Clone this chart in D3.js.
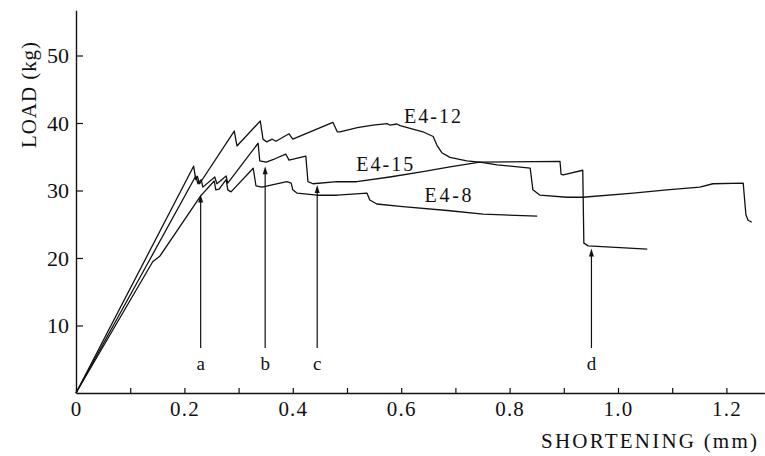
<!DOCTYPE html>
<html>
<head>
<meta charset="utf-8">
<script src="https://cdn.jsdelivr.net/npm/d3@7"></script>
<style>
  html, body { margin: 0; padding: 0; background: #fff; }
  svg { display: block; }
  text { font-family: "Liberation Serif", "DejaVu Serif", serif; fill: #111; }
</style>
</head>
<body>
<svg id="chart" width="765" height="456"></svg>
<script>
// ---------- data (shortening in mm, load in kg) ----------
const xTickValues = [0, 0.1, 0.2, 0.3, 0.4, 0.5, 0.6, 0.7, 0.8, 0.9, 1.0, 1.1, 1.2];
const xLabelValues = [0, 0.2, 0.4, 0.6, 0.8, 1.0, 1.2];
const xTickLabels = ["0", "0.2", "0.4", "0.6", "0.8", "1.0", "1.2"];
const yTickValues = [10, 20, 30, 40, 50];
const yTickLabels = ["10", "20", "30", "40", "50"];

const seriesNames = ["E4-12", "E4-15", "E4-8"];

const e412 = [
  [0, 0], [0.217, 33.6], [0.221, 31.6], [0.224, 32.1], [0.228, 31.0],
  [0.292, 38.8], [0.297, 36.6], [0.340, 40.3], [0.345, 37.6], [0.352, 37.2],
  [0.362, 37.6], [0.369, 37.3], [0.393, 38.4], [0.400, 37.6], [0.474, 40.1],
  [0.482, 38.7], [0.487, 38.7], [0.519, 39.3], [0.548, 39.7], [0.574, 39.9],
  [0.579, 39.7], [0.592, 39.85], [0.598, 39.6], [0.640, 38.7], [0.659, 38.0],
  [0.666, 36.7], [0.675, 35.6], [0.690, 34.9], [0.721, 34.4], [0.745, 34.2],
  [0.893, 34.3], [0.895, 32.4], [0.899, 32.3], [0.935, 33.0], [0.937, 22.2],
  [0.945, 21.8], [1.054, 21.3]
];

const e415 = [
  [0, 0], [0.135, 19.6], [0.221, 32.15], [0.225, 31.0], [0.231, 31.6],
  [0.234, 30.5], [0.256, 32.0], [0.260, 31.0], [0.277, 32.15], [0.280, 31.1],
  [0.336, 37.0], [0.339, 34.4], [0.351, 34.2], [0.367, 34.7], [0.387, 35.4],
  [0.393, 34.5], [0.424, 35.1], [0.428, 31.3], [0.437, 31.0], [0.482, 31.3],
  [0.518, 31.3], [0.579, 32.0], [0.640, 32.8], [0.690, 33.5], [0.745, 34.2],
  [0.777, 33.8], [0.838, 33.3], [0.843, 30.1], [0.856, 29.3], [0.906, 29.0],
  [0.935, 29.0], [1.028, 29.6], [1.090, 30.1], [1.151, 30.5], [1.175, 31.0],
  [1.231, 31.1], [1.236, 26.4], [1.240, 25.6], [1.247, 25.3]
];

const e48 = [
  [0, 0], [0.1415, 19.45], [0.155, 20.3], [0.230, 29.2], [0.255, 31.4],
  [0.258, 30.1], [0.264, 30.2], [0.277, 31.6], [0.280, 30.1], [0.286, 29.8],
  [0.327, 33.3], [0.332, 30.7], [0.343, 30.5], [0.389, 31.3], [0.397, 31.1],
  [0.400, 30.1], [0.408, 29.6], [0.445, 29.3], [0.482, 29.3], [0.537, 29.6],
  [0.542, 28.6], [0.555, 28.0], [0.603, 27.6], [0.690, 27.0], [0.751, 26.5],
  [0.851, 26.2]
];

const arrowLabels = ["a", "b", "c", "d"];
const arrowX = [0.230, 0.349, 0.445, 0.951];
const arrowTipLoad = [29.4, 33.6, 30.8, 21.4];

// ---------- scales ----------
const svg = d3.select("#chart");
const x = d3.scaleLinear().domain([0, 1.27]).range([76, 76 + 1.27 * 542]);
const y = d3.scaleLinear().domain([0, 56.7]).range([393, 393 - 56.7 * 6.75]);

const ink = "#111";

// ---------- axes ----------
const labelMap = new Map(xLabelValues.map((v, i) => [v.toFixed(1), xTickLabels[i]]));
const xAxis = d3.axisBottom(x)
  .tickValues(xTickValues)
  .tickSizeInner(-5)
  .tickSizeOuter(0)
  .tickPadding(8)
  .tickFormat(d => labelMap.get(d.toFixed(1)) || "");
const gx = svg.append("g").attr("transform", `translate(0,${y(0)})`).call(xAxis);
gx.select(".domain").attr("stroke", ink).attr("stroke-width", 1.4);
gx.selectAll(".tick line").attr("stroke", ink).attr("stroke-width", 1.2);
gx.selectAll(".tick text").attr("font-size", 21).attr("letter-spacing", 1.2)
  .attr("font-family", "Liberation Serif").attr("fill", ink);

const yAxis = d3.axisLeft(y)
  .tickValues(yTickValues)
  .tickSizeInner(-7)
  .tickSizeOuter(0)
  .tickPadding(7)
  .tickFormat((d, i) => yTickLabels[i]);
const gy = svg.append("g").attr("transform", `translate(${x(0)},0)`).call(yAxis);
gy.select(".domain").attr("stroke", ink).attr("stroke-width", 1.4);
gy.selectAll(".tick line").attr("stroke", ink).attr("stroke-width", 1.2);
gy.selectAll(".tick text").attr("font-size", 22)
  .attr("font-family", "Liberation Serif").attr("fill", ink);

// axis titles
svg.append("text")
  .attr("x", 757).attr("y", 448)
  .attr("text-anchor", "end")
  .attr("font-size", 21)
  .attr("textLength", 216).attr("lengthAdjust", "spacing")
  .text("SHORTENING (mm)");

svg.append("text")
  .attr("transform", "translate(36,95) rotate(-90)")
  .attr("text-anchor", "middle")
  .attr("font-size", 21)
  .attr("textLength", 106).attr("lengthAdjust", "spacing")
  .text("LOAD (kg)");

// ---------- curves ----------
const line = d3.line().x(d => x(d[0])).y(d => y(d[1])).curve(d3.curveLinear);
[e412, e415, e48].forEach(s => {
  svg.append("path")
    .attr("d", line(s))
    .attr("fill", "none")
    .attr("stroke", ink)
    .attr("stroke-width", 1.3)
    .attr("stroke-linejoin", "round");
});

// series labels
const seriesLabelPos = [[0.605, 40.0], [0.517, 32.9], [0.643, 28.3]];
seriesNames.forEach((n, i) => {
  svg.append("text")
    .attr("x", x(seriesLabelPos[i][0]))
    .attr("y", y(seriesLabelPos[i][1]))
    .attr("font-size", 20)
    .attr("textLength", n.length === 4 ? 47 : 57)
    .attr("lengthAdjust", "spacing")
    .text(n);
});

// ---------- arrows ----------
const arrowBaseLoad = 6.67;
arrowLabels.forEach((lab, i) => {
  const ax = x(arrowX[i]);
  const tipY = y(arrowTipLoad[i]);
  svg.append("line")
    .attr("x1", ax).attr("x2", ax)
    .attr("y1", y(arrowBaseLoad)).attr("y2", tipY + 4)
    .attr("stroke", ink).attr("stroke-width", 1.2);
  svg.append("path")
    .attr("d", `M${ax},${tipY} L${ax - 2.5},${tipY + 8} L${ax + 2.5},${tipY + 8} Z`)
    .attr("fill", ink);
  svg.append("text")
    .attr("x", ax).attr("y", y(4.4))
    .attr("dy", "0.35em")
    .attr("text-anchor", "middle")
    .attr("font-size", 19)
    .text(lab);
});
</script>
</body>
</html>
